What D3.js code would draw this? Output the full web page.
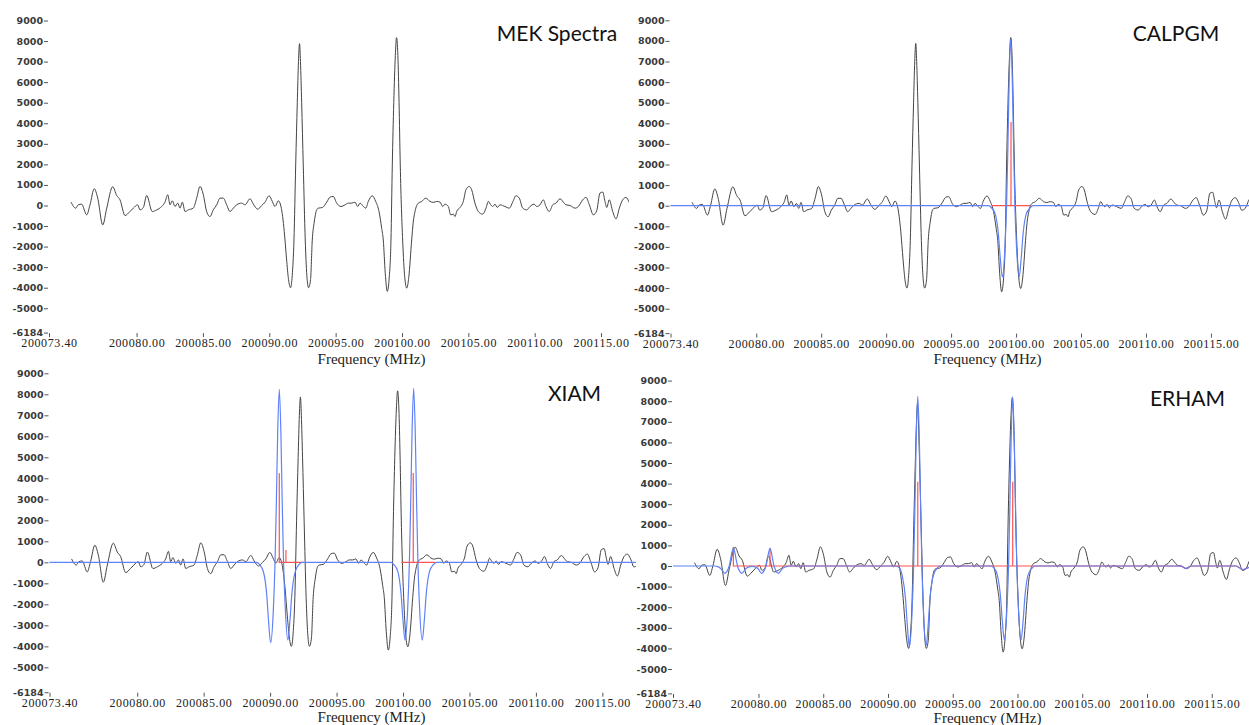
<!DOCTYPE html>
<html>
<head>
<meta charset="utf-8">
<script src="https://cdn.jsdelivr.net/npm/d3@7"></script>
<style>
  body { margin: 0; background: #fff; }
  .tick text { fill: #333; }
  .y-axis text { font-family: "DejaVu Sans", sans-serif; font-size: 9.5px; font-weight: bold; fill: #3a3a3a; }
  .x-axis text { font-family: "Liberation Serif", serif; font-size: 12px; letter-spacing: 0.6px; fill: #222; }
  .tick line { stroke: #555; }
</style>
</head>
<body>
<div id="chart"></div>
<script>
// ---------------- data ----------------
// observed MEK spectrum: [frequency MHz, intensity]
const mekSpectrum = [
  [200075.06, 163], [200075.41, -130], [200075.61, 33], [200075.86, 65], [200076.24, -456],
  [200076.49, 33], [200076.81, 815], [200077.07, 359], [200077.45, -945], [200077.75, -130],
  [200078.20, 913], [200078.50, 489], [200078.75, 277], [200079.13, -489], [200079.50, -293],
  [200079.75, -130], [200080.08, 33], [200080.26, -212], [200080.51, -98], [200080.76, 489],
  [200081.18, -293], [200081.52, -212], [200081.89, -49], [200082.14, 163], [200082.35, 522],
  [200082.52, 33], [200082.69, 228], [200082.90, -49], [200083.10, 114], [200083.27, -130],
  [200083.45, 163], [200083.65, -293], [200083.90, -212], [200084.27, -130], [200084.53, 359],
  [200084.78, 929], [200085.03, 522], [200085.28, -293], [200085.53, -538], [200085.78, -212],
  [200086.04, 33], [200086.29, 359], [200086.53, 359], [200086.79, 33], [200087.04, -293],
  [200087.29, -130], [200087.54, 33], [200087.92, 114], [200088.17, 33], [200088.55, 326],
  [200088.80, 65], [200089.13, -179], [200089.43, 0], [200089.68, 163], [200089.98, 473],
  [200090.23, 196], [200090.43, -49], [200090.68, 228], [200090.88, -49], [200091.13, -1271],
  [200091.30, -2600], [200091.45, -3600], [200091.60, -4000], [200091.73, -3400], [200091.86, -1680],
  [200091.99, 1975], [200092.11, 5000], [200092.20, 7000], [200092.28, 7874], [200092.35, 7000],
  [200092.44, 5000], [200092.56, 1975], [200092.71, -1680], [200092.83, -3400], [200092.96, -4000],
  [200093.11, -3600], [200093.24, -1680], [200093.39, -800], [200093.57, -212], [200093.69, -130],
  [200094.00, -98], [200094.33, 163], [200094.58, 408], [200094.82, 440], [200095.08, 114],
  [200095.40, -49], [200095.71, 33], [200095.96, 114], [200096.21, 114], [200096.46, 163],
  [200096.66, -49], [200096.84, 114], [200097.09, -49], [200097.27, -130], [200097.46, 196],
  [200097.76, 473], [200098.02, 196], [200098.27, -293], [200098.47, -1108], [200098.59, -1680],
  [200098.74, -3300], [200098.89, -4180], [200099.04, -3500], [200099.17, -1680], [200099.27, 1975],
  [200099.38, 5000], [200099.50, 7300], [200099.59, 8165], [200099.69, 7300], [200099.78, 5000],
  [200099.87, 1975], [200100.05, -1680], [200100.21, -3500], [200100.36, -4020], [200100.51, -3500],
  [200100.73, -1680], [200100.85, -800], [200100.98, -293], [200101.23, 114], [200101.49, 196],
  [200101.79, 359], [200102.11, 200], [200102.36, 150], [200102.62, 196], [200102.87, 163],
  [200103.07, -49], [200103.24, 65], [200103.49, -49], [200103.67, -456], [200103.87, -424],
  [200104.00, -538], [200104.12, -293], [200104.37, -98], [200104.62, 196], [200104.82, 766],
  [200105.07, 929], [200105.25, 766], [200105.50, 114], [200105.75, -293], [200106.08, -424],
  [200106.33, -130], [200106.51, 196], [200106.69, 33], [200106.84, -49], [200107.01, 65],
  [200107.18, -98], [200107.39, 33], [200107.76, -49], [200108.09, -130], [200108.34, 163],
  [200108.59, 473], [200108.84, 359], [200109.10, -130], [200109.40, -212], [200109.65, -49],
  [200109.95, 65], [200110.15, -49], [200110.40, 33], [200110.65, 277], [200110.85, -49],
  [200111.10, -293], [200111.36, 33], [200111.61, 114], [200111.91, 326], [200112.16, 163],
  [200112.36, 33], [200112.66, 0], [200113.04, -130], [200113.29, -49], [200113.62, 277],
  [200113.87, 391], [200114.12, 33], [200114.42, -456], [200114.67, -261], [200114.92, 603],
  [200115.13, 652], [200115.30, 196], [200115.43, -98], [200115.62, 277], [200115.88, -293],
  [200116.13, -652], [200116.38, -130], [200116.63, 277], [200116.88, 391], [200117.13, 150],
  [200117.37, -218], [200117.63, -136], [200117.95, 300], [200118.20, 420]
];

// CALPGM simulated spectrum and stick line
const calpgmFit = [
  [200073.40, 0], [200097.90, 0], [200098.10, -100], [200098.40, -410], [200098.64, -1380],
  [200098.79, -2590], [200098.94, -3456], [200099.14, -2070], [200099.27, 0], [200099.37, 2840],
  [200099.47, 6090], [200099.59, 8117], [200099.71, 6090], [200099.81, 2840], [200099.91, 0],
  [200100.04, -2070], [200100.24, -3456], [200100.39, -2590], [200100.54, -1380], [200100.78, -410],
  [200101.09, -100], [200101.29, 0], [200118.20, 0]
];
const calpgmSticks = [
  [200098.13, 0], [200099.61, 0], [200099.61, 4068], [200099.61, 0], [200101.08, 0]
];

// XIAM simulated spectrum and stick lines
const xiamFit = [
  [200073.40, 0], [200089.00, 0], [200089.20, -100], [200089.50, -460], [200089.74, -1500],
  [200089.89, -2870], [200090.04, -3830], [200090.24, -2300], [200090.37, 0], [200090.47, 2880],
  [200090.57, 6180], [200090.69, 8238], [200090.81, 6180], [200090.91, 2880], [200091.01, 0],
  [200091.14, -2200], [200091.34, -3700], [200091.49, -2780], [200091.64, -1480], [200091.89, -440],
  [200092.19, -100], [200092.39, 0], [200099.10, 0], [200099.30, -100], [200099.61, -440],
  [200099.85, -1480], [200100.00, -2780], [200100.15, -3700], [200100.35, -2220], [200100.48, 0],
  [200100.58, 2900], [200100.68, 6210], [200100.80, 8286], [200100.92, 6210], [200101.02, 2900],
  [200101.12, 0], [200101.25, -2220], [200101.45, -3700], [200101.60, -2780], [200101.75, -1480],
  [200101.99, -440], [200102.30, -100], [200102.50, 0], [200118.20, 0]
];
const xiamSticks = [
  [200090.69, 4238], [200090.69, 0], [200091.19, 0], [200091.19, 590], [200091.19, 0],
  [200092.50, 0], [null, null],
  [200099.87, 0], [200100.77, 0], [200100.77, 4250], [200100.77, 0], [200102.40, 0]
];

// ERHAM simulated spectrum and stick lines
const erhamFit = [
  [200073.40, 0], [200076.60, 0], [200076.90, -40], [200077.11, -140], [200077.26, -265],
  [200077.41, -354], [200077.61, -212], [200077.74, 0], [200077.84, 300], [200077.94, 645],
  [200078.06, 859], [200078.18, 645], [200078.28, 300], [200078.38, 0], [200078.51, -212],
  [200078.71, -354], [200078.86, -265], [200079.01, -140], [200079.25, -40], [200079.50, -20],
  [200079.80, -60], [200080.00, -150], [200080.10, -260], [200080.25, -354], [200080.45, -212],
  [200080.58, 0], [200080.68, 300], [200080.78, 645], [200080.89, 859], [200081.00, 645],
  [200081.10, 300], [200081.20, 0], [200081.33, -212], [200081.53, -354], [200081.68, -265],
  [200081.83, -140], [200082.10, -40], [200082.40, 0], [200090.60, 0], [200090.90, -100],
  [200091.10, -470], [200091.35, -1570], [200091.50, -2940], [200091.65, -3917], [200091.85, -2350],
  [200091.98, 0], [200092.08, 2890], [200092.18, 6190], [200092.30, 8252], [200092.42, 6190],
  [200092.52, 2890], [200092.62, 0], [200092.75, -2350], [200092.95, -3850], [200093.10, -2890],
  [200093.25, -1540], [200093.50, -460], [200093.80, -100], [200094.00, 0], [200097.90, 0],
  [200098.20, -100], [200098.44, -430], [200098.68, -1440], [200098.83, -2690], [200098.98, -3590],
  [200099.18, -2150], [200099.31, 0], [200099.41, 2880], [200099.51, 6170], [200099.63, 8220],
  [200099.75, 6170], [200099.85, 2880], [200099.95, 0], [200100.08, -2150], [200100.28, -3590],
  [200100.43, -2690], [200100.58, -1440], [200100.82, -430], [200101.13, -100], [200101.33, 0],
  [200112.60, 0], [200113.00, -120], [200113.40, 0], [200116.90, 0], [200117.40, -180],
  [200117.90, -60], [200118.20, 0]
];
const erhamSticks = [
  [200078.06, 937], [200078.06, 0], [200080.89, 0], [200080.89, 859], [200080.89, 0],
  [200092.30, 0], [200092.30, 4092], [200092.30, 0], [200099.63, 0], [200099.63, 4090],
  [200099.63, 0], [200112.60, 0], [200113.00, -120], [200113.40, 0], [200116.90, 0],
  [200117.40, -180], [200117.90, -60], [200118.20, -40]
];

const yTicks = [9000, 8000, 7000, 6000, 5000, 4000, 3000, 2000, 1000, 0,
                -1000, -2000, -3000, -4000, -5000, -6184];
const xTicks = [200073.40, 200080, 200085, 200090, 200095, 200100, 200105, 200110, 200115];
const panelTitles = ["MEK Spectra", "CALPGM", "XIAM", "ERHAM"];
const xLabel = "Frequency (MHz)";

// ---------------- layout ----------------
const W = 1249, H = 725;
const xDomain = [200073.40, 200118.20];
const yDomain = [-6184, 9000];

// one entry per panel (pixel geometry only)
const panels = [
  { left: 49,    right: 643.5,  top: 20.5,  bottom: 332.6, clipR: 629,  titleX: 557,    titleY: 40.5,  labelX: 371.5, labelY: 363.5,
    fit: null, sticks: null },
  { left: 670.5, right: 1252.5, top: 20.3,  bottom: 333.1, clipR: 1249, titleX: 1176,   titleY: 40.5,  labelX: 987.5, labelY: 363.5,
    fit: calpgmFit, sticks: calpgmSticks },
  { left: 49.5,  right: 644.9,  top: 373.3, bottom: 692.2, clipR: 636,  titleX: 574.5,  titleY: 400.5, labelX: 371.5, labelY: 722,
    fit: xiamFit, sticks: xiamSticks },
  { left: 673,   right: 1253.2, top: 380.6, bottom: 693.4, clipR: 1249, titleX: 1187.5, titleY: 406,   labelX: 987.5, labelY: 722.5,
    fit: erhamFit, sticks: erhamSticks }
];

const svg = d3.select("#chart")
  .append("svg")
    .attr("width", W)
    .attr("height", H)
    .style("display", "block")
    .style("background", "#fff");

panels.forEach((p, i) => {
  const x = d3.scaleLinear().domain(xDomain).range([p.left, p.right]);
  const y = d3.scaleLinear().domain(yDomain).range([p.bottom, p.top]);

  const g = svg.append("g").attr("class", "panel");

  // clip the traces to the panel's visible region
  svg.append("clipPath")
      .attr("id", "clip" + i)
    .append("rect")
      .attr("x", p.left - 1)
      .attr("y", p.top - 20)
      .attr("width", p.clipR - p.left + 1)
      .attr("height", p.bottom - p.top + 20);

  // y axis
  g.append("g")
      .attr("class", "y-axis")
      .attr("transform", "translate(" + (p.left - 1) + ",0)")
      .call(d3.axisLeft(y).tickValues(yTicks).tickSize(4).tickPadding(1).tickFormat(d => String(d)))
      .call(a => a.select(".domain").remove());

  // x axis
  g.append("g")
      .attr("class", "x-axis")
      .attr("transform", "translate(0," + (p.bottom + 0.5) + ")")
      .call(d3.axisBottom(x).tickValues(xTicks).tickSize(4).tickPadding(1.5).tickFormat(d => d.toFixed(2)))
      .call(a => a.select(".domain").remove());

  // x label
  g.append("text")
      .attr("x", p.labelX)
      .attr("y", p.labelY)
      .attr("text-anchor", "middle")
      .attr("font-family", "Liberation Serif, serif")
      .attr("font-size", "15px")
      .attr("fill", "#222")
      .text(xLabel);

  // title
  g.append("text")
      .attr("x", p.titleX)
      .attr("y", p.titleY)
      .attr("text-anchor", "middle")
      .attr("font-family", "Lato, 'Open Sans', sans-serif")
      .attr("font-size", "21px")
      .attr("fill", "#111")
      .text(panelTitles[i]);

  const traces = g.append("g").attr("clip-path", "url(#clip" + i + ")");

  const smooth = d3.line()
      .x(d => x(d[0]))
      .y(d => y(d[1]))
      .curve(d3.curveMonotoneX);

  const straight = d3.line()
      .defined(d => d[0] !== null)
      .x(d => x(d[0]))
      .y(d => y(d[1]));

  // experimental trace
  traces.append("path")
      .datum(mekSpectrum)
      .attr("fill", "none")
      .attr("stroke", "#444")
      .attr("stroke-width", 1)
      .attr("d", smooth);

  if (p.sticks) {
    traces.append("path")
        .datum(p.sticks)
        .attr("fill", "none")
        .attr("stroke", "#ff5252")
        .attr("stroke-width", 1.2)
        .attr("d", straight);
  }

  if (p.fit) {
    traces.append("path")
        .datum(p.fit)
        .attr("fill", "none")
        .attr("stroke", "#5f82f7")
        .attr("stroke-width", 1.2)
        .attr("d", smooth);
  }
});
</script>
</body>
</html>
